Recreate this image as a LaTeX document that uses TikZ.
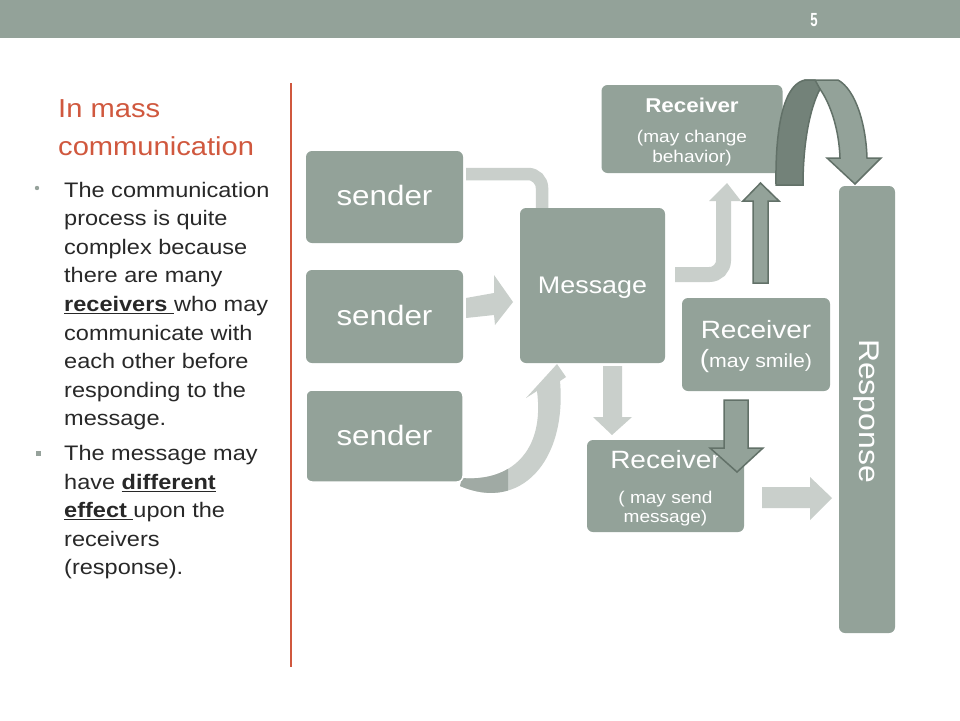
\documentclass[tikz,border=0pt]{standalone}
\usepackage{fontspec}
\setmainfont{Liberation Sans}[FakeStretch=1.12]
\usetikzlibrary{calc}
\definecolor{boxc}{RGB}{147,162,153}
\definecolor{lightarr}{RGB}{201,207,203}
\definecolor{midarr}{RGB}{160,170,164}
\definecolor{darkedge}{RGB}{98,113,104}
\definecolor{darkband}{RGB}{115,130,121}
\definecolor{titlec}{RGB}{208,88,62}
\definecolor{bodyc}{RGB}{40,40,40}
\definecolor{bulc}{RGB}{150,162,155}
\newcommand\fsz[1]{\fontsize{#1}{#1}\selectfont}
\begin{document}
\begin{tikzpicture}[x=1pt,y=-1pt,
  box/.style={fill=boxc, rounded corners=6pt, draw=none, inner sep=0pt},
  wtxt/.style={text=white, inner sep=0pt, anchor=base},
  body/.style={text=bodyc, inner sep=0pt, anchor=base west, font=\fsz{21}},
  lightfat/.style={fill=lightarr, draw=none},
  darkfat/.style={fill=boxc, draw=darkedge, line width=1.5pt, line join=miter}]
\useasboundingbox (0,0) rectangle (960,720);
\fill[white] (0,0) rectangle (960,720);
% top bar
\fill[boxc] (0,0) rectangle (960,37.5);
\node[wtxt, font=\bfseries\fsz{19}] (pnum) at (814,26) {\scalebox{0.62}[1]{5}};
% separator line
\draw[titlec, line width=2pt] (291,83) -- (291,667);
% title
\node[inner sep=0pt, anchor=base west, text=titlec, font=\fsz{26}] (t1) at (58,117) {In mass};
\node[inner sep=0pt, anchor=base west, text=titlec, font=\fsz{26}] (t2) at (58,155) {communication};
% bullets
\fill[bulc] (37,188) circle (2.2);
\fill[bulc] (35.5,450.5) rectangle (40.5,455.5);
\node[body] (l1) at (64,197) {The communication};
\node[body] (l2) at (64,225.6) {process is quite};
\node[body] (l3) at (64,254.2) {complex because};
\node[body] (l4) at (64,282.8) {there are many};
\node[body] (l5) at (64,311.4) {\underline{\textbf{receivers\ }}who may};
\node[body] (l6) at (64,340) {communicate with};
\node[body] (l7) at (64,368.6) {each other before};
\node[body] (l8) at (64,397.2) {responding to the};
\node[body] (l9) at (64,425.8) {message.};
\node[body] (m1) at (64,460.5) {The message may};
\node[body] (m2) at (64,489.1) {have \underline{\textbf{different}}};
\node[body] (m3) at (64,517.7) {\underline{\textbf{effect\ }}upon the};
\node[body] (m4) at (64,546.3) {receivers};
\node[body] (m5) at (64,574.9) {(response).};

% ---- light arrows behind boxes
% sender1 -> message (bent band)
\draw[lightarr, line width=12.5pt, rounded corners=14pt] (466,174) -- (542,174) -- (542,210);
% sender3 -> message (curved)
\path[lightfat] (460,486) .. controls (520,512) and (567,462) .. (560,381)
  -- (566,377) -- (557,364) -- (526,398) -- (537,391)
  .. controls (545,452) and (510,482) .. (462,478) -- cycle;
\begin{scope}
\clip (440,440) rectangle (508,500);
\path[fill=midarr] (460,486) .. controls (520,512) and (567,462) .. (560,381)
  -- (537,391) .. controls (545,452) and (510,482) .. (462,478) -- cycle;
\end{scope}

% ---- boxes
\node[box, minimum width=157pt, minimum height=92pt] (s1) at (384.5,197) {};
\node[box, minimum width=157pt, minimum height=93pt] (s2) at (384.5,316.5) {};
\node[box, draw=white, line width=1.5pt, minimum width=157pt, minimum height=92pt] (s3) at (384.5,436) {};
\node[box, minimum width=145pt, minimum height=155pt] (msg) at (592.5,285.5) {};
\node[box, minimum width=181pt, minimum height=88pt] (rtop) at (692,129) {};
\node[box, minimum width=148pt, minimum height=93pt] (rsmile) at (756,344.5) {};
\node[box, minimum width=157pt, minimum height=92pt] (rsend) at (665.5,486) {};
\node[box, minimum width=56pt, minimum height=447pt] (resp) at (867,409.5) {};

% ---- box texts
\node[wtxt, font=\fsz{28}] (s1t) at (384.5,205) {sender};
\node[wtxt, font=\fsz{28}] (s2t) at (384.5,325) {sender};
\node[wtxt, font=\fsz{28}] (s3t) at (384.5,445) {sender};
\node[wtxt, font=\fsz{24}] (msgt) at (592.5,293) {Message};
\node[wtxt, font=\bfseries\fsz{20}] (rtop1) at (692,112) {Receiver};
\node[wtxt, font=\fsz{17}] (rtop2) at (692,142) {(may change};
\node[wtxt, font=\fsz{17}] (rtop3) at (692,162) {behavior)};
\node[wtxt, font=\fsz{25}] (rsm1) at (756,338) {Receiver};
\node[wtxt, font=\fsz{19}] (rsm2) at (756,367) {{\fsz{25}(}may smile)};
\node[wtxt, font=\fsz{25}] (rse1) at (665.5,468) {Receiver};
\node[wtxt, font=\fsz{17}] (rse2) at (665.5,503) {( may send};
\node[wtxt, font=\fsz{17}] (rse3) at (665.5,522) {message)};
\node[text=white, inner sep=0pt, rotate=-90, font=\fsz{28.5}] (respt) at (866,411) {Response};

% ---- light arrows on top
% sender2 -> message
\path[lightfat] (466,298) -- (494,293) -- (494,275) -- (513,302) -- (495,325) -- (494,315) -- (466,318) -- cycle;
% message -> receiver top (bent)
\draw[lightarr, line width=15pt, rounded corners=14pt] (675,274.5) -- (723.5,274.5) -- (723.5,200);
\path[lightfat] (709,201) -- (727,183) -- (741,201) -- cycle;
% message -> receiver send
\path[lightfat] (603,366) -- (622,366) -- (622,417) -- (632,417) -- (612,435) -- (593,417) -- (603,417) -- cycle;
% receiver send -> response
\path[lightfat] (762,487) -- (810,487) -- (810,477) -- (832,498) -- (810,520) -- (810,508) -- (762,508) -- cycle;

% ---- dark arrows
% receiver smile -> receiver top
\path[darkfat] (753,283) -- (753,201) -- (743,201) -- (760.5,183) -- (779,201) -- (768,201) -- (768,283) -- cycle;
% receiver smile -> receiver send
\path[darkfat] (724,400) -- (748,400) -- (748,448) -- (763,448) -- (737,472) -- (710,448) -- (724,448) -- cycle;
% curved arrow to response
\path[darkfat] (806,80) -- (838,80) .. controls (856,90) and (866,125) .. (867,158)
  -- (881,158) -- (855,184) -- (827,158) -- (840,158)
  .. controls (839,130) and (831,105) .. (820,89) -- cycle;
\path[darkfat, fill=darkband] (776,185) .. controls (775,120) and (786,82) .. (806,80)
  -- (815,80) -- (820,89) .. controls (808,112) and (803,150) .. (803,185) -- cycle;
\end{tikzpicture}
\end{document}
